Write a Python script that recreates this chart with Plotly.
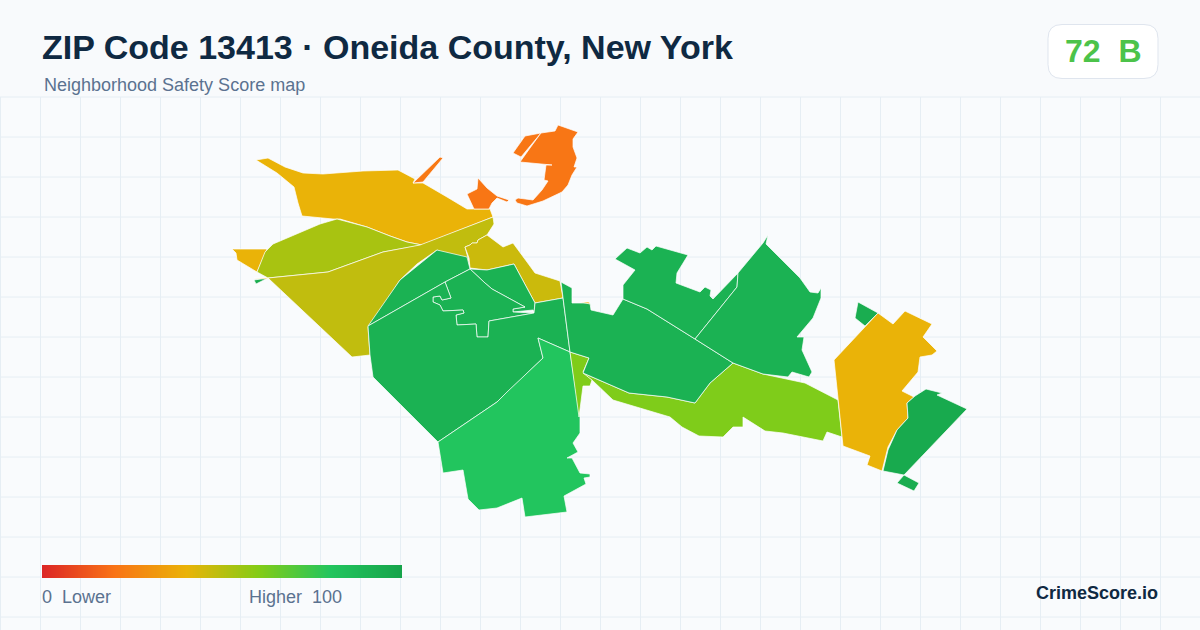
import plotly.graph_objects as go
from plotly.colors import sample_colorscale

# Tract outlines, in picture units (x right, y down)
north_x = [256, 268, 285, 303, 323, 363, 398, 415, 413, 423, 447, 467, 490, 493, 422, 407, 390, 367, 340, 333, 302, 298, 294, 277]
north_y = [160, 158, 167, 173, 174, 171, 170, 179, 183, 183, 197, 209, 209, 217, 245, 242, 236, 227, 219, 219, 216, 203, 187, 173]
sliver_x = [413, 440, 443, 423]
sliver_y = [183, 157, 158, 182]
harbor_x = [478, 487, 497, 509, 507, 497, 492, 489, 474, 467, 477]
harbor_y = [178, 188, 196, 200, 202, 198, 203, 209, 209, 194, 189]
ne_small_x = [513, 525, 541, 521]
ne_small_y = [153, 136, 133, 157]
ne_main_x = [541, 555, 558, 578, 573, 573, 577, 574, 577, 572, 568, 562, 543, 527, 517, 515, 518, 533, 542, 548, 544, 546, 552, 520, 530]
ne_main_y = [133, 131, 125, 132, 139, 147, 158, 167, 167, 175, 185, 192, 201, 206, 203, 200, 198, 200, 190, 181, 180, 165, 165, 162, 148]
chip_x = [480, 490, 488]
chip_y = [227, 225, 227]
west_x = [232, 267, 257, 237, 236]
west_y = [249, 249, 272, 260, 253]
lime_west_x = [257, 265, 273, 320, 337, 367, 390, 407, 422, 383, 328, 268]
lime_west_y = [272, 252, 244, 224, 219, 227, 236, 242, 245, 252, 272, 278]
olive_west_x = [268, 328, 383, 420, 493, 494, 487, 478, 477, 472, 470, 465, 468, 469, 437, 417, 400, 387, 368, 370, 352]
olive_west_y = [278, 272, 252, 245, 217, 224, 235, 240, 243, 243, 245, 247, 258, 263, 250, 264, 280, 300, 327, 355, 357]
olive_east_x = [465, 470, 472, 477, 478, 487, 503, 513, 527, 535, 560, 563, 535, 514, 487, 470, 469]
olive_east_y = [247, 245, 243, 243, 240, 235, 247, 243, 262, 273, 281, 298, 303, 264, 270, 268, 258]
tiny_x = [254, 268, 256]
tiny_y = [280, 278, 284]
tiny_amber_x = [254, 268, 266]
tiny_amber_y = [278, 278, 279]
upper_x = [368, 400, 437, 467, 470, 445]
upper_y = [326, 280, 250, 257, 269, 282]
wedge_x = [470, 487, 514, 535, 534, 533, 513, 513, 525, 492, 485]
wedge_y = [269, 270, 264, 303, 312, 310, 312, 309, 307, 289, 283]
inner_x = [470, 445, 451, 442, 440, 433, 433, 440, 443, 463, 464, 456, 457, 476, 477, 488, 489, 534, 513, 513, 525, 492, 485]
inner_y = [269, 282, 298, 300, 296, 297, 302, 305, 311, 310, 313, 315, 325, 324, 337, 337, 321, 313, 312, 309, 307, 289, 283]
main_x = [368, 445, 451, 442, 440, 433, 433, 440, 443, 463, 464, 456, 457, 476, 477, 488, 489, 534, 535, 563, 570, 538, 543, 507, 497, 438, 373, 370]
main_y = [326, 282, 298, 300, 296, 297, 302, 305, 311, 310, 313, 315, 325, 324, 337, 337, 321, 313, 303, 298, 352, 338, 358, 392, 402, 442, 377, 355]
south_x = [538, 570, 580, 580, 573, 578, 567, 572, 580, 590, 590, 584, 586, 564, 567, 525, 522, 497, 479, 468, 463, 443, 438, 497, 507, 543]
south_y = [338, 352, 417, 433, 443, 452, 458, 458, 473, 474, 477, 478, 484, 496, 512, 517, 498, 508, 510, 499, 470, 473, 442, 402, 392, 358]
wedge_lime_x = [570, 589, 583, 592, 590, 583, 579]
wedge_lime_y = [352, 358, 372, 380, 386, 386, 417]
band_x = [583, 629, 667, 695, 710, 733, 763, 805, 838, 842, 827, 823, 783, 765, 743, 743, 733, 723, 699, 682, 670, 613, 592]
band_y = [373, 393, 397, 403, 383, 363, 374, 383, 400, 437, 432, 441, 433, 431, 417, 427, 427, 437, 436, 427, 417, 400, 380]
mid_x = [561, 572, 572, 590, 591, 613, 623, 647, 695, 733, 710, 695, 667, 629, 583, 589, 570]
mid_y = [282, 288, 303, 303, 310, 315, 299, 309, 339, 363, 383, 403, 397, 393, 373, 358, 352]
chip2_x = [581, 589, 590]
chip2_y = [302, 302, 304]
n_green_x = [615, 627, 640, 647, 652, 656, 688, 677, 676, 700, 705, 711, 710, 713, 738, 737, 695, 647, 623, 623, 635]
n_green_y = [259, 248, 253, 247, 250, 246, 255, 273, 283, 292, 287, 290, 296, 299, 273, 287, 339, 309, 299, 285, 270]
ne_green_x = [738, 763, 768, 766, 800, 810, 818, 821, 821, 813, 797, 804, 802, 812, 809, 792, 788, 763, 733, 695, 737]
ne_green_y = [273, 243, 235, 244, 278, 292, 293, 288, 298, 318, 337, 337, 350, 372, 377, 372, 377, 374, 363, 339, 287]
e_amber_x = [878, 893, 905, 932, 923, 937, 932, 920, 918, 902, 914, 907, 908, 897, 888, 882, 867, 870, 843, 834]
e_amber_y = [313, 324, 311, 324, 337, 351, 355, 357, 372, 391, 397, 403, 418, 430, 447, 471, 465, 456, 446, 360]
e_small_x = [858, 878, 865, 855]
e_small_y = [302, 313, 326, 318]
se_x = [883, 888, 897, 908, 907, 915, 926, 942, 937, 967, 904]
se_y = [471, 450, 430, 418, 403, 396, 389, 393, 395, 409, 475]
se_tiny_x = [904, 919, 914, 897]
se_tiny_y = [475, 483, 491, 483]

tracts = [
    (north_x, north_y, 40), (sliver_x, sliver_y, 22), (harbor_x, harbor_y, 21),
    (ne_small_x, ne_small_y, 21), (ne_main_x, ne_main_y, 21), (chip_x, chip_y, 21),
    (west_x, west_y, 40), (tiny_x, tiny_y, 95), (tiny_amber_x, tiny_amber_y, 40),
    (lime_west_x, lime_west_y, 53), (olive_west_x, olive_west_y, 48), (olive_east_x, olive_east_y, 46),
    (upper_x, upper_y, 91), (wedge_x, wedge_y, 91), (inner_x, inner_y, 91), (main_x, main_y, 91),
    (south_x, south_y, 80), (wedge_lime_x, wedge_lime_y, 61), (band_x, band_y, 61),
    (mid_x, mid_y, 91), (chip2_x, chip2_y, 40), (n_green_x, n_green_y, 91), (ne_green_x, ne_green_y, 91),
    (e_amber_x, e_amber_y, 40), (e_small_x, e_small_y, 94), (se_x, se_y, 96), (se_tiny_x, se_tiny_y, 94),
]

legend_stops = [0, 20, 40, 60, 80, 100]
legend_colors = ["#dc2626", "#f97316", "#eab308", "#84cc16", "#22c55e", "#16a34a"]
colorscale = [[s / 100, c] for s, c in zip(legend_stops, legend_colors)]

grid_x = list(range(0, 1201, 40))
grid_y = list(range(97, 630, 40))

fig = go.Figure()

for xs, ys, score in tracts:
    color = sample_colorscale(colorscale, score / 100)[0]
    fig.add_trace(go.Scatter(x=xs + xs[:1], y=ys + ys[:1], mode="lines", fill="toself", fillcolor=color,
                             line=dict(color="#ffffff", width=0.7), hoverinfo="skip", showlegend=False))

fig.add_trace(go.Heatmap(x=legend_stops, y=[0, 1], z=[legend_stops, legend_stops], zmin=0, zmax=100,
                         colorscale=colorscale, zsmooth="best", showscale=False, hoverinfo="skip",
                         xaxis="x2", yaxis="y2"))

shapes = [dict(type="rect", x0=0, x1=1200, y0=97, y1=630, fillcolor="#f9fbfd", line=dict(width=0), layer="below")]
for gx in grid_x:
    shapes.append(dict(type="line", x0=gx + 0.5, x1=gx + 0.5, y0=97, y1=630, line=dict(color="#e6eef4", width=1), layer="below"))
for gy in grid_y:
    shapes.append(dict(type="line", x0=0, x1=1200, y0=gy, y1=gy, line=dict(color="#e6eef4", width=1), layer="below"))
# score badge
shapes.append(dict(type="path", path="M1062,24.5 H1144 Q1158,24.5 1158,38.5 V64.5 Q1158,78.5 1144,78.5 H1062 Q1048,78.5 1048,64.5 V38.5 Q1048,24.5 1062,24.5 Z",
                   fillcolor="#ffffff", line=dict(color="#dfe5ee", width=1), layer="below"))

FONT = "Liberation Sans"
def label(x, y, text, size, color, anchor="left", bold=False):
    fig.add_annotation(x=x, y=y, text=f"<b>{text}</b>" if bold else text, showarrow=False, xanchor=anchor, yanchor="middle",
                       font=dict(family=FONT, size=size, color=color), xref="x", yref="y", borderpad=0, borderwidth=0)

label(42, 47, "ZIP Code 13413 · Oneida County, New York", 34, "#0f2942", bold=True)
label(44, 85, "Neighborhood Safety Score map", 18, "#5b7290")
label(1103, 51, "72  B", 32, "#4cc34a", anchor="center", bold=True)
label(42, 597, "0  Lower", 18, "#5b7290")
label(342, 597, "Higher  100", 18, "#5b7290", anchor="right")
label(1158, 593, "CrimeScore.io", 18, "#0f2942", anchor="right", bold=True)

fig.update_layout(
    width=1200, height=630, margin=dict(l=0, r=0, t=0, b=0),
    paper_bgcolor="#f8fafc", plot_bgcolor="rgba(0,0,0,0)", shapes=shapes,
    xaxis=dict(range=[0, 1200], visible=False, domain=[0, 1]),
    yaxis=dict(range=[630, 0], visible=False, domain=[0, 1]),
    xaxis2=dict(range=[0, 100], visible=False, domain=[42 / 1200, 402 / 1200], anchor="y2"),
    yaxis2=dict(range=[0, 1], visible=False, domain=[1 - 578 / 630, 1 - 565 / 630], anchor="x2"),
)
fig.write_html("out.html", config={"displayModeBar": False}, post_script="document.body.style.margin='0'")
